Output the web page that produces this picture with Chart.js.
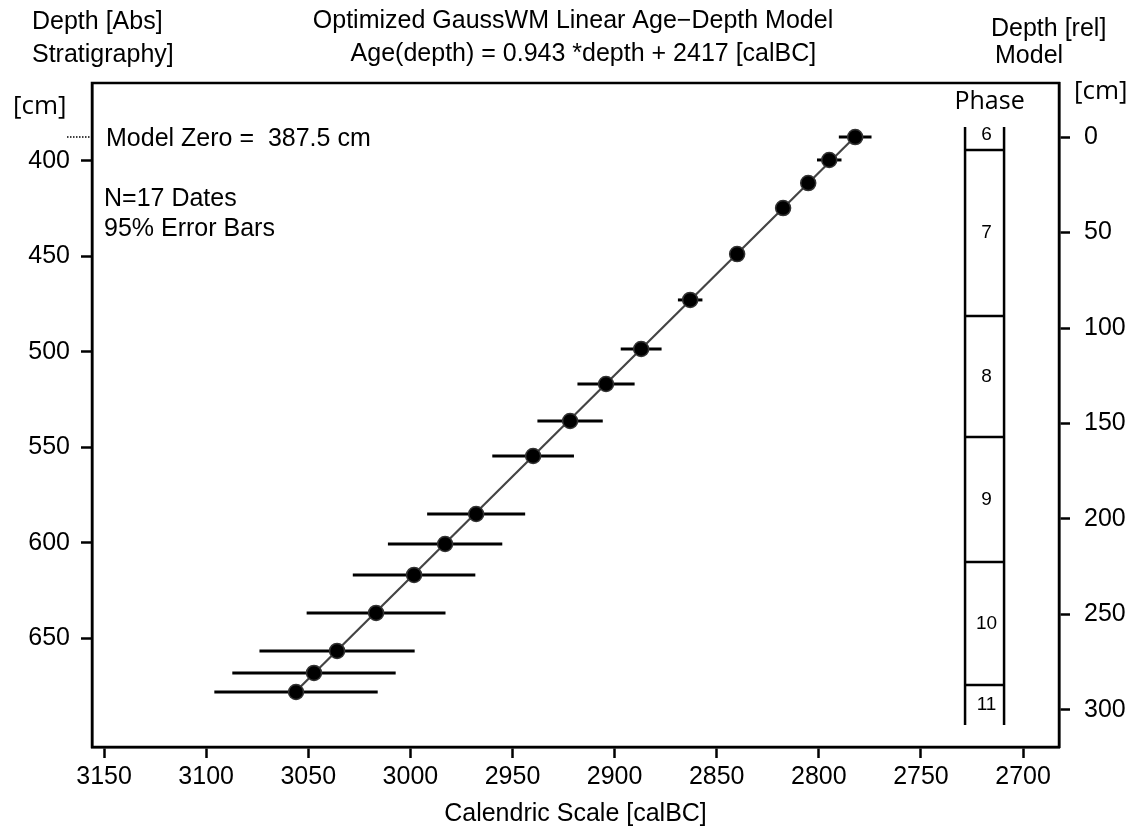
<!DOCTYPE html>
<html>
<head>
<meta charset="utf-8">
<script src="https://cdn.jsdelivr.net/npm/chart.js@4.4.1/dist/chart.umd.min.js"></script>
<style>
  body { margin: 0; background: #fff; }
  #wrap { width: 1146px; height: 830px; }
</style>
</head>
<body>
<div id="wrap"><canvas id="ageDepth" width="1146" height="830"></canvas></div>
<script>
// dated samples: absolute depth [cm], modelled age [calBC], 95% half-width [yr]
const depthAbs = [387.5, 399.5, 411.6, 424.7, 448.8, 472.8, 498.5, 516.8, 536.2, 554.5, 584.9, 600.6, 616.8, 636.7, 656.6, 668.1, 678.1];
const ageCalBC = [2782.2, 2794.9, 2805.2, 2817.5, 2840.0, 2863.0, 2887.0, 2904.2, 2921.8, 2939.9, 2967.8, 2983.0, 2998.2, 3016.8, 3035.9, 3047.2, 3056.0];
const err95 = [8, 6, 3, 3, 3, 6, 10, 14, 16, 20, 24, 28, 30, 34, 38, 40, 40];

// model line end points
const lineDepth = [387.5, 678.1];
const lineAge = [2782.4, 3056.4];

const modelZero = 387.5;

// tick labels
const xTicks = [3150, 3100, 3050, 3000, 2950, 2900, 2850, 2800, 2750, 2700];
const yAbsTicks = [400, 450, 500, 550, 600, 650];
const yRelTicks = [0, 50, 100, 150, 200, 250, 300];

// phase column (relative depth bounds)
const phaseNames = ['6', '7', '8', '9', '10', '11'];
const phaseBounds = [-5.2, 6.8, 93.7, 157.1, 222.5, 286.9, 307.9];

const X_MIN = 2682.4, X_MAX = 3155.9;
const Y_MIN = 359.2, Y_MAX = 706.9;
const PHASE_X = [2728.4, 2709.3];

const FONT = '"Liberation Sans", Arial, sans-serif';
const FONT2 = '"Open Sans", "Noto Sans", sans-serif';

const points = depthAbs.map((d, i) => ({ x: ageCalBC[i], y: d }));
const linePts = lineDepth.map((d, i) => ({ x: lineAge[i], y: d }));

const extras = {
  id: 'extras',
  beforeDatasetsDraw(chart) {
    const { ctx, scales } = chart;
    const x = scales.x, y = scales.y;
    ctx.save();
    ctx.strokeStyle = '#000';
    ctx.lineWidth = 3;
    depthAbs.forEach((d, i) => {
      const py = y.getPixelForValue(d);
      ctx.beginPath();
      ctx.moveTo(x.getPixelForValue(ageCalBC[i] - err95[i]), py);
      ctx.lineTo(x.getPixelForValue(ageCalBC[i] + err95[i]), py);
      ctx.stroke();
    });
    ctx.restore();
  },
  afterDraw(chart) {
    const { ctx, chartArea, scales } = chart;
    const x = scales.x, y = scales.y, y2 = scales.y2;
    ctx.save();
    // frame
    ctx.strokeStyle = '#000';
    ctx.lineWidth = 2.5;
    ctx.strokeRect(chartArea.left, chartArea.top, chartArea.right - chartArea.left, chartArea.bottom - chartArea.top);

    // model zero dotted mark
    const zy = y.getPixelForValue(modelZero);
    ctx.lineWidth = 1.5;
    ctx.setLineDash([1.5, 1.5]);
    ctx.beginPath();
    ctx.moveTo(chartArea.left - 25, zy);
    ctx.lineTo(chartArea.left - 2, zy);
    ctx.stroke();
    ctx.setLineDash([]);

    // phase column
    const xl = x.getPixelForValue(PHASE_X[0]), xr = x.getPixelForValue(PHASE_X[1]);
    const top = y2.getPixelForValue(phaseBounds[0]);
    const bot = y2.getPixelForValue(phaseBounds[phaseBounds.length - 1]);
    ctx.lineWidth = 2.5;
    ctx.beginPath();
    ctx.moveTo(xl, top); ctx.lineTo(xl, bot);
    ctx.moveTo(xr, top); ctx.lineTo(xr, bot);
    for (let i = 1; i < phaseBounds.length - 1; i++) {
      const py = y2.getPixelForValue(phaseBounds[i]);
      ctx.moveTo(xl, py); ctx.lineTo(xr, py);
    }
    ctx.stroke();
    ctx.fillStyle = '#000';
    ctx.textAlign = 'center';
    ctx.textBaseline = 'middle';
    ctx.font = '19px ' + FONT;
    phaseNames.forEach((n, i) => {
      const py = (y2.getPixelForValue(phaseBounds[i]) + y2.getPixelForValue(phaseBounds[i + 1])) / 2;
      ctx.fillText(n, (xl + xr) / 2 + 2, i === 0 ? py - 4 : py);
    });
    ctx.font = '25px ' + FONT2;
    ctx.fillText('Phase', (xl + xr) / 2 + 5, chartArea.top + 19);

    // corner labels
    ctx.font = '25px ' + FONT;
    ctx.textAlign = 'left';
    ctx.fillText('Depth [Abs]', 32, 22);
    ctx.fillText('Stratigraphy]', 32, 55);
    ctx.fillText('Depth [rel]', 991, 29);
    ctx.fillText('Model', 995, 56);
    ctx.fillText('Model Zero =  387.5 cm', 106, zy + 2);
    ctx.fillText('N=17 Dates', 104, 199);
    ctx.fillText('95% Error Bars', 104, 229);
    ctx.font = '26px ' + FONT2;
    ctx.fillText('[cm]', 13, 107);
    ctx.fillText('[cm]', 1074, 92);
    ctx.restore();
  }
};

const axisGrid = { drawOnChartArea: false, drawTicks: true, tickLength: 11, tickWidth: 2.5, color: '#000' };
const axisBorder = { display: true, color: '#000', width: 2.5 };
const tickFont = { family: FONT, size: 25 };
const plain = v => String(v);

new Chart(document.getElementById('ageDepth'), {
  type: 'scatter',
  data: {
    datasets: [
      {
        label: 'Dates',
        data: points,
        order: 1,
        pointRadius: 7.5,
        pointBackgroundColor: '#000',
        pointBorderColor: '#333',
        pointBorderWidth: 1.5
      },
      {
        type: 'line',
        label: 'Model',
        data: linePts,
        order: 2,
        borderColor: '#444',
        borderWidth: 2.2,
        pointRadius: 0,
        fill: false
      }
    ]
  },
  options: {
    responsive: false,
    animation: false,
    devicePixelRatio: 1,
    layout: { padding: 0 },
    plugins: {
      legend: { display: false },
      tooltip: { enabled: false },
      title: {
        display: true,
        text: ['Optimized GaussWM Linear Age\u2212Depth Model', '   Age(depth) = 0.943 *depth + 2417 [calBC]'],
        color: '#000',
        font: { family: FONT, size: 25, weight: 'normal', lineHeight: '33px' },
        padding: { top: 5, bottom: 12 }
      }
    },
    scales: {
      x: {
        type: 'linear',
        reverse: true,
        min: X_MIN,
        max: X_MAX,
        afterBuildTicks: s => { s.ticks = xTicks.map(v => ({ value: v })); },
        afterFit: s => { s.height = 83; },
        grid: axisGrid,
        border: axisBorder,
        ticks: { color: '#000', font: tickFont, padding: 4, maxRotation: 0, callback: plain },
        title: { display: true, text: 'Calendric Scale [calBC]', color: '#000', font: { family: FONT, size: 25 }, padding: { top: 0, bottom: 1 } }
      },
      y: {
        type: 'linear',
        position: 'left',
        reverse: true,
        min: Y_MIN,
        max: Y_MAX,
        afterBuildTicks: s => { s.ticks = yAbsTicks.map(v => ({ value: v })); },
        afterFit: s => { s.width = 92; },
        grid: axisGrid,
        border: axisBorder,
        ticks: { color: '#000', font: tickFont, padding: 11, callback: plain }
      },
      y2: {
        type: 'linear',
        position: 'right',
        reverse: true,
        min: Y_MIN - modelZero,
        max: Y_MAX - modelZero,
        afterBuildTicks: s => { s.ticks = yRelTicks.map(v => ({ value: v })); },
        afterFit: s => { s.width = 87; },
        grid: axisGrid,
        border: axisBorder,
        ticks: { color: '#000', font: tickFont, padding: 14, callback: plain }
      }
    }
  },
  plugins: [extras]
});
</script>
</body>
</html>
